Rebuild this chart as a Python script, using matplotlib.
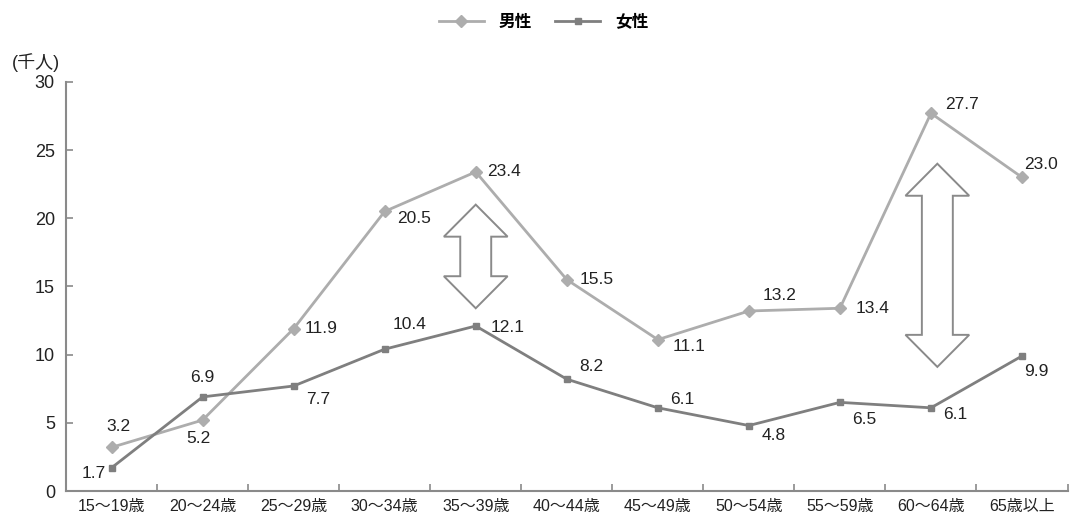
import matplotlib.pyplot as plt
from matplotlib.patches import Polygon

plt.rcParams['font.family'] = ['Liberation Sans', 'Noto Sans CJK JP']

# データ（千人）
categories = ['15～19歳', '20～24歳', '25～29歳', '30～34歳', '35～39歳', '40～44歳',
              '45～49歳', '50～54歳', '55～59歳', '60～64歳', '65歳以上']
male = [3.2, 5.2, 11.9, 20.5, 23.4, 15.5, 11.1, 13.2, 13.4, 27.7, 23.0]
female = [1.7, 6.9, 7.7, 10.4, 12.1, 8.2, 6.1, 4.8, 6.5, 6.1, 9.9]

# ラベルの位置（ポイント単位のオフセット）
male_off = [(5, 15), (-3, -13), (8, 0), (9, -5), (8, 0), (9, 0), (11, -5), (10, 11), (11, 0), (10, 6), (1.5, 9)]
male_ha = ['center', 'center', 'left', 'left', 'left', 'left', 'left', 'left', 'left', 'left', 'left']
female_off = [(-4, -4), (0, 14), (9, -10), (18, 18), (11, -1), (9, 9), (9, 6), (9, -7), (9, -12), (9, -5), (1.5, -11)]
female_ha = ['right', 'center', 'left', 'center', 'left', 'left', 'left', 'left', 'left', 'left', 'left']

fig = plt.figure(figsize=(10.7, 5.15), dpi=100)
ax = fig.add_axes([0.0617, 0.0466, 0.936, 0.7944])

x = list(range(len(categories)))
male_color = '#adadad'
female_color = '#7f7f7f'
ax.plot(x, male, color=male_color, lw=2, marker='D', ms=6.5, label='男性')
ax.plot(x, female, color=female_color, lw=2, marker='s', ms=4.5, label='女性')

for i in x:
    ax.annotate(f'{male[i]:.1f}', (i, male[i]), xytext=male_off[i], textcoords='offset points',
                ha=male_ha[i], va='center', fontsize=12.5, color='#222222')
    ax.annotate(f'{female[i]:.1f}', (i, female[i]), xytext=female_off[i], textcoords='offset points',
                ha=female_ha[i], va='center', fontsize=12.5, color='#222222')

# 白抜きの両矢印
def double_arrow(cx, y0, y1, w=0.7, sw=0.34, hl=2.35):
    pts = [(cx, y1), (cx + w / 2, y1 - hl), (cx + sw / 2, y1 - hl), (cx + sw / 2, y0 + hl),
           (cx + w / 2, y0 + hl), (cx, y0), (cx - w / 2, y0 + hl), (cx - sw / 2, y0 + hl),
           (cx - sw / 2, y1 - hl), (cx - w / 2, y1 - hl)]
    ax.add_patch(Polygon(pts, closed=True, facecolor='white', edgecolor='#8a8a8a', lw=1.4, zorder=1))

double_arrow(4.0, 13.4, 21.0)
double_arrow(9.07, 9.1, 24.0)

ax.set_xlim(-0.5, 10.5)
ax.set_ylim(0, 30)
ax.set_yticks([0, 5, 10, 15, 20, 25, 30])
ax.set_xticks(x, categories)
ax.set_xticks([i - 0.5 for i in range(12)], minor=True)
ax.tick_params(axis='x', which='major', length=0, labelsize=11.5, pad=6, labelcolor='#222222')
ax.tick_params(axis='x', which='minor', direction='in', length=5, color='#8a8a8a', width=1.2)
ax.tick_params(axis='y', direction='in', length=5, color='#8a8a8a', width=1.2, labelsize=13,
               pad=8, labelcolor='#222222')

for s in ['top', 'right']:
    ax.spines[s].set_visible(False)
for s in ['left', 'bottom']:
    ax.spines[s].set_color('#8a8a8a')
    ax.spines[s].set_linewidth(1.5)

fig.text(0.011, 0.879, '(千人)', fontsize=13, va='center', color='#222222')

fig.legend(loc='center', bbox_to_anchor=(543.5 / 1070, 0.957), ncol=2, frameon=False,
           prop={'size': 12, 'weight': 'bold'}, handlelength=2.7, columnspacing=1.4,
           handletextpad=0.9)

fig.savefig('out.png', dpi=100)
